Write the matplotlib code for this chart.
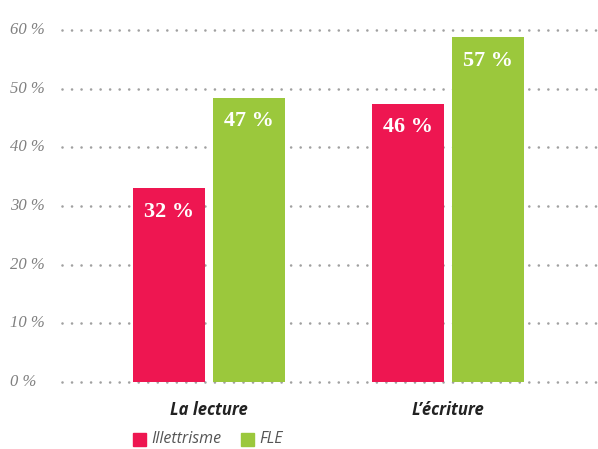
import matplotlib
matplotlib.use("Agg")
import matplotlib.pyplot as plt
import numpy as np
from matplotlib.patches import Rectangle

categories = ["La lecture", "L\u2019écriture"]
series_names = ["Illettrisme", "FLE"]
illettrisme = [32, 46]
fle = [47, 57]
tick_values = [0, 10, 20, 30, 40, 50, 60]
tick_labels = ["0 %", "10 %", "20 %", "30 %", "40 %", "50 %", "60 %"]

RED = "#EE1651"
GREEN = "#9BC83C"

fig = plt.figure(figsize=(5.98, 4.49), dpi=100)
W, H = 598, 449
ax = fig.add_axes([62 / W, (H - 382) / H, (598 - 62) / W, (382 - 20) / H])

x = np.arange(len(categories))
width = 0.301
off = 0.167
ax.set_xlim(-0.615, 1.628)
ax.set_ylim(0, 59.83)

# grid scale of the original artwork (gridlines slightly compressed vs bars)
grid_scale = 0.9697
for t, lab in zip(tick_values, tick_labels):
    yy = t * grid_scale
    ax.axhline(yy, color="#a0a0a0", linestyle=(0, (0.01, 3.6)), linewidth=1.9,
               dash_capstyle="round", zorder=0, clip_on=False)
    ax.text(10 / W, (H - 382) / H + yy * (362 / 59.83) / H, lab, transform=fig.transFigure,
            ha="left", va="center", fontsize=12, fontstyle="italic",
            family="Liberation Serif", color="#808080")

b1 = ax.bar(x - off, illettrisme, width, color=RED, zorder=2)
b2 = ax.bar(x + off, fle, width, color=GREEN, zorder=2)

for bars, vals in ((b1, illettrisme), (b2, fle)):
    for r, v in zip(bars, vals):
        ax.annotate(f"{v} %", (r.get_x() + r.get_width() / 2, v), xytext=(0, -17),
                    textcoords="offset points", ha="center", va="center",
                    fontsize=16, fontweight="bold", family="Liberation Serif",
                    color="white", zorder=3)

ax.set_xticks(x)
ax.set_xticklabels(categories, fontsize=12, fontweight="bold", fontstyle="italic",
                   family="Open Sans", color="#222222")
ax.tick_params(axis="x", length=0, pad=14)
ax.set_yticks([])
for s in ax.spines.values():
    s.set_visible(False)

# legend
leg_items = [(133, RED, series_names[0]), (241, GREEN, series_names[1])]
for px, col, name in leg_items:
    fig.patches.append(Rectangle((px / W, (H - 446) / H), 13 / W, 13 / H,
                                 transform=fig.transFigure, color=col))
    fig.text((px + 18) / W, (H - 439) / H, name, ha="left", va="center",
             fontsize=11.5, fontstyle="italic", family="Open Sans", color="#555555")

fig.savefig("out.png", dpi=100)
